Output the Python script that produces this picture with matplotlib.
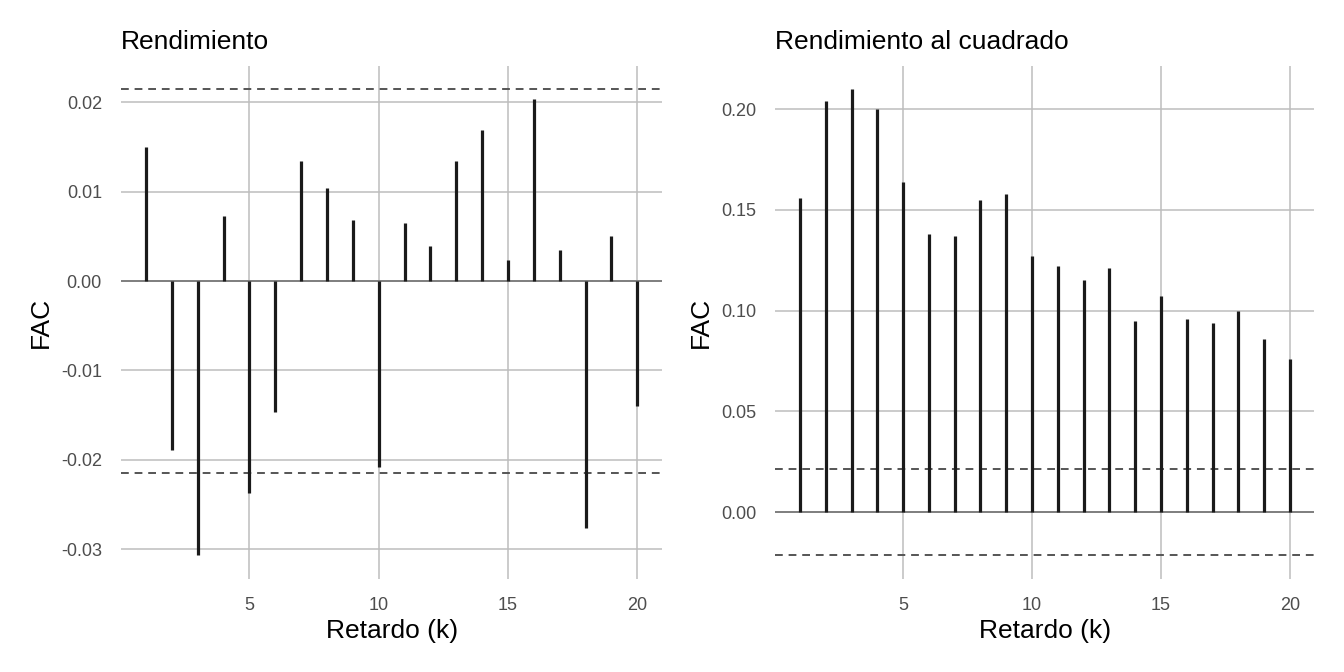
import numpy as np
import matplotlib
matplotlib.use("Agg")
import matplotlib.pyplot as plt

plt.rcParams['font.family'] = ['Liberation Sans', 'DejaVu Sans']

lags = np.arange(1, 21)

# FAC del rendimiento
fac_rend = [0.0150, -0.0189, -0.0307, 0.0073, -0.0237, -0.0146, 0.0134, 0.0104,
            0.0068, -0.0208, 0.0065, 0.0039, 0.0134, 0.0169, 0.0023, 0.0204,
            0.0035, -0.0276, 0.0050, -0.0140]

# FAC del rendimiento al cuadrado
fac_cuad = [0.156, 0.204, 0.210, 0.200, 0.164, 0.138, 0.137, 0.155, 0.158, 0.127,
            0.122, 0.115, 0.121, 0.095, 0.107, 0.096, 0.094, 0.100, 0.086, 0.076]

banda = 0.0215  # limites de confianza
titulos = ["Rendimiento", "Rendimiento al cuadrado"]
yticks = [np.arange(-0.03, 0.021, 0.01), np.arange(0.0, 0.201, 0.05)]

fig = plt.figure(figsize=(13.44, 6.72), dpi=100)
axes = [fig.add_axes([0.0903, 0.1387, 0.4021, 0.7638]),
        fig.add_axes([0.5770, 0.1387, 0.4010, 0.7638])]

for ax, vals, titulo, yt in zip(axes, [fac_rend, fac_cuad], titulos, yticks):
    vals = np.array(vals)
    lo = min(vals.min(), -banda)
    hi = max(vals.max(), banda)
    pad = (hi - lo) * 0.05
    ax.set_ylim(lo - pad, hi + pad)
    ax.set_xlim(1 - 0.95, 20 + 0.95)

    ax.set_xticks([5, 10, 15, 20])
    ax.set_yticks(yt)
    ax.yaxis.set_major_formatter(matplotlib.ticker.FormatStrFormatter('%.2f'))
    ax.grid(True, color='#bdbdbd', linewidth=1.1)
    ax.set_axisbelow(True)
    for s in ax.spines.values():
        s.set_visible(False)
    ax.tick_params(length=0, labelsize=13, colors='#4d4d4d')
    ax.tick_params(axis='x', pad=13)
    ax.tick_params(axis='y', pad=14)

    ax.axhline(0, color='#7f7f7f', linewidth=1.4, zorder=1)
    ax.axhline(banda, color='#555555', linewidth=1.4, linestyle=(0, (4, 3)), zorder=1)
    ax.axhline(-banda, color='#555555', linewidth=1.4, linestyle=(0, (4, 3)), zorder=1)
    ax.vlines(lags, 0, vals, color='#1a1a1a', linewidth=2.3, zorder=3)

    ax.set_title(titulo, loc='left', fontsize=19, pad=12)
    ax.set_xlabel("Retardo (k)", fontsize=19, labelpad=4)
    ax.set_ylabel("FAC", fontsize=19, labelpad=6)

fig.savefig("out.png", dpi=100)
